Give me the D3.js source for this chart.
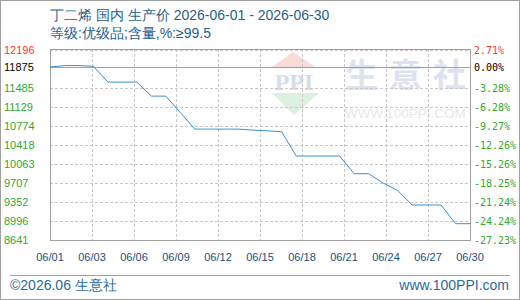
<!DOCTYPE html>
<html>
<head>
<meta charset="utf-8">
<script src="https://cdn.jsdelivr.net/npm/d3@7.9.0/dist/d3.min.js"></script>
<style>
  body { margin: 0; background: #fff; }
  svg { display: block; font-family: "Liberation Sans", Arial, sans-serif; }
</style>
</head>
<body>
<svg id="chart" width="520" height="300"></svg>
<script>
// daily producer price, 丁二烯 国内
const days = [1, 2, 3, 4, 5, 6, 7, 8, 9, 10, 11, 12, 13, 14, 15,
  16, 17, 18, 19, 20, 21, 22, 23, 24, 25, 26, 27, 28, 29, 30];
const prices = [11875, 11905, 11905, 11890, 11595, 11595, 11595, 11333, 11333, 11025,
  10716, 10716, 10716, 10716, 10697, 10685, 10666, 10212, 10212, 10212,
  10212, 9881, 9881, 9707, 9569, 9296, 9296, 9296, 8946, 8946];

const xTickLabels = ['06/01', '06/03', '06/06', '06/09', '06/12', '06/15',
  '06/18', '06/21', '06/24', '06/27', '06/30'];
const yTicks = [12196, 11875, 11485, 11129, 10774, 10418, 10063, 9707, 9352, 8996, 8641];
const pctLabels = ['2.71%', '0.00%', '-3.28%', '-6.28%', '-9.27%', '-12.26%',
  '-15.26%', '-18.25%', '-21.24%', '-24.24%', '-27.23%'];

const basePrice = 11875;
const plotLeft = 50, plotRight = 470, plotTop = 49, plotBottom = 240;

const svg = d3.select('#chart');

let x = d3.scaleLinear().domain([1, 30]).range([plotLeft, plotRight]);
let xLab = d3.scalePoint().domain(xTickLabels).range([plotLeft, plotRight]);
let y = d3.scaleLinear().domain([8641, 12196]).range([plotBottom, 50]);

const crisp = (v) => Math.round(v) + 0.5;

// outer border
svg.append('rect')
  .attr('x', 0.5).attr('y', 0.5)
  .attr('width', 519).attr('height', 299)
  .attr('fill', 'none').attr('stroke', '#a0a0a0');

// title
svg.append('text')
  .attr('x', 50).attr('y', 20)
  .attr('font-size', 14).attr('fill', '#1d5f8f')
  .text('丁二烯 国内 生产价 2026-06-01 - 2026-06-30');
svg.append('text')
  .attr('x', 50).attr('y', 38)
  .attr('font-size', 14).attr('fill', '#1d5f8f')
  .text('等级:优级品;含量,%:≥99.5');

// watermark
let wm = svg.append('g');
wm.append('path')
  .attr('d', 'M293,52 L315,67 L272,67 Z')
  .attr('fill', '#f9dcd8');
wm.append('text')
  .attr('x', 294).attr('y', 90)
  .attr('text-anchor', 'middle')
  .attr('font-family', '"Liberation Serif", serif')
  .attr('font-size', 24).attr('font-weight', 'bold')
  .attr('fill', '#d6dcea')
  .text('PPI');
wm.append('path')
  .attr('d', 'M272,93 L319,93 L294,115 Z')
  .attr('fill', '#dcefe0');
wm.append('text')
  .attr('x', 345).attr('y', 87)
  .attr('font-family', '"Noto Sans CJK SC", sans-serif')
  .attr('font-size', 33).attr('font-weight', 'bold')
  .attr('letter-spacing', 11)
  .attr('fill', '#dde2ee')
  .text('生意社');
wm.append('text')
  .attr('x', 345).attr('y', 118)
  .attr('font-size', 13.5)
  .attr('fill', '#e8e8e8')
  .text('WWW.100PPI.COM');

// grid
svg.append('g')
  .selectAll('line')
  .data(yTicks.filter((v) => v !== basePrice && v !== 8641))
  .join('line')
  .attr('x1', plotLeft).attr('x2', plotRight)
  .attr('y1', (d) => crisp(y(d))).attr('y2', (d) => crisp(y(d)))
  .attr('stroke', '#c8c8c8').attr('stroke-dasharray', '3,2');

svg.append('g')
  .selectAll('line')
  .data(xTickLabels.slice(1, -1))
  .join('line')
  .attr('x1', (d) => crisp(xLab(d))).attr('x2', (d) => crisp(xLab(d)))
  .attr('y1', plotTop).attr('y2', plotBottom)
  .attr('stroke', '#c8c8c8').attr('stroke-dasharray', '3,2');

// base price line
svg.append('line')
  .attr('x1', plotLeft).attr('x2', plotRight)
  .attr('y1', crisp(y(basePrice))).attr('y2', crisp(y(basePrice)))
  .attr('stroke', '#a0a0a0');

// plot frame
svg.append('rect')
  .attr('x', plotLeft + 0.5).attr('y', plotTop + 0.5)
  .attr('width', plotRight - plotLeft).attr('height', plotBottom - plotTop)
  .attr('fill', 'none').attr('stroke', '#a0a0a0');

// price line
let line = d3.line()
  .x((d, i) => x(days[i]))
  .y((d) => y(d));

svg.append('path')
  .datum(prices)
  .attr('d', line)
  .attr('fill', 'none')
  .attr('stroke', '#3a8fd3')
  .attr('stroke-width', 1);

// y labels, left
const tickColor = (i) => i === 0 ? '#ff3333' : i === 1 ? '#000' : '#2eaa2e';
svg.append('g')
  .selectAll('text')
  .data(yTicks)
  .join('text')
  .attr('x', 4)
  .attr('y', (d) => y(d) + 4)
  .attr('font-size', 11)
  .attr('fill', (d, i) => tickColor(i))
  .text((d) => d);

// percent labels, right
svg.append('g')
  .selectAll('text')
  .data(pctLabels)
  .join('text')
  .attr('x', 474)
  .attr('y', (d, i) => y(yTicks[i]) + 4)
  .attr('font-family', '"DejaVu Sans Mono", monospace')
  .attr('font-size', 10)
  .attr('fill', (d, i) => tickColor(i))
  .text((d) => d);

// x labels
svg.append('g')
  .selectAll('text')
  .data(xTickLabels)
  .join('text')
  .attr('x', (d) => xLab(d))
  .attr('y', 261)
  .attr('text-anchor', 'middle')
  .attr('font-size', 11)
  .attr('fill', '#1a5080')
  .text((d) => d);

// footer
svg.append('line')
  .attr('x1', 10).attr('x2', 510)
  .attr('y1', 275.5).attr('y2', 275.5)
  .attr('stroke', '#a0a0a0');
svg.append('text')
  .attr('x', 10).attr('y', 290)
  .attr('font-size', 14).attr('fill', '#2a6a9c')
  .text('©2026.06 生意社');
svg.append('text')
  .attr('x', 509).attr('y', 290)
  .attr('text-anchor', 'end')
  .attr('font-size', 14).attr('fill', '#2a6a9c')
  .text('www.100PPI.com');
</script>
</body>
</html>
